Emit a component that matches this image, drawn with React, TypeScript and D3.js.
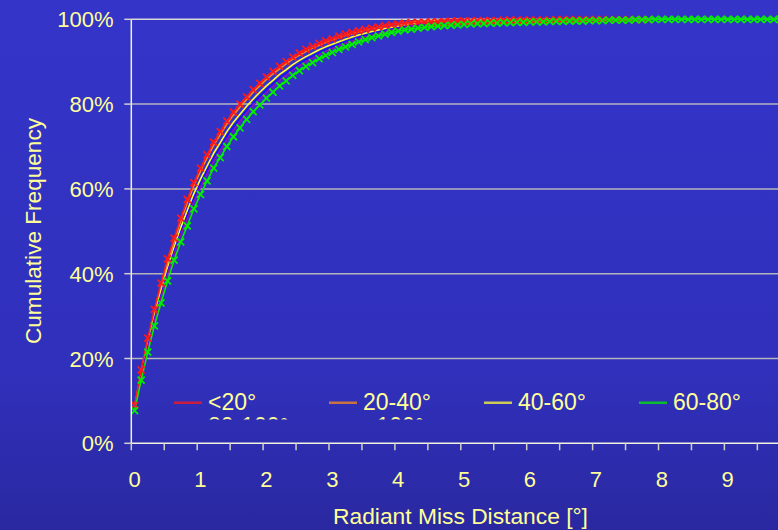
import React from 'react';
import * as d3 from 'd3';

const W = 778;
const H = 530;

// Bins are 0.1° wide; value i is the cumulative share up to bin i.
const binWidth = 0.1;
const xTickLabels = ['0', '1', '2', '3', '4', '5', '6', '7', '8', '9'];
const yTickValues = [0, 20, 40, 60, 80, 100];

const lt20 = [
  9.0, 17.3, 24.8, 31.6, 37.8, 43.5, 48.4, 53.1, 57.5, 61.5,
  64.9, 68.0, 71.0, 73.5, 76.0, 78.1, 80.0, 81.7, 83.4, 84.9,
  86.4, 87.7, 88.9, 90.0, 91.1, 92.0, 92.9, 93.6, 94.3, 94.9,
  95.4, 96.0, 96.5, 96.9, 97.3, 97.6, 97.9, 98.2, 98.5, 98.7,
  98.9, 99.1, 99.2, 99.3, 99.3, 99.4, 99.4, 99.5, 99.5, 99.6,
  99.6, 99.6, 99.7, 99.7, 99.7, 99.7, 99.8, 99.8, 99.8, 99.8,
  99.8, 99.8, 99.8, 99.8, 99.9, 99.9, 99.9, 99.9, 99.9, 99.9,
  99.9, 99.9, 99.9, 99.9, 99.9, 99.9, 99.9, 99.9, 99.9,
];

const from20to40 = [
  8.6, 16.6, 23.9, 30.6, 36.8, 42.6, 47.6, 52.4, 56.8, 60.8,
  64.2, 67.3, 70.3, 72.8, 75.3, 77.4, 79.3, 81.1, 82.8, 84.3,
  85.8, 87.1, 88.3, 89.5, 90.6, 91.5, 92.4, 93.2, 93.9, 94.5,
  95.1, 95.7, 96.2, 96.6, 97.0, 97.4, 97.8, 98.1, 98.4, 98.7,
  98.9, 99.1, 99.3, 99.5, 99.6, 99.7, 99.8, 99.9, 100, 100, 100,
];

const from40to60 = [
  8.4, 16.3, 23.4, 29.9, 35.8, 41.3, 46.2, 50.8, 54.9, 58.9,
  62.3, 65.4, 68.4, 70.9, 73.5, 75.7, 77.6, 79.5, 81.2, 82.8,
  84.3, 85.6, 87.0, 88.1, 89.3, 90.3, 91.2, 92.0, 92.8, 93.5,
  94.1, 94.7, 95.3, 95.8, 96.3, 96.7, 97.1, 97.5, 97.8, 98.1,
  98.4, 98.7, 98.9, 99.1, 99.3, 99.5, 99.6, 99.7, 99.8, 99.9, 100,
];

const from60to80 = [
  7.7, 14.9, 21.5, 27.7, 33.1, 38.3, 43.2, 47.5, 51.3, 55.3,
  58.7, 61.9, 64.9, 67.4, 70.0, 72.3, 74.4, 76.4, 78.2, 79.8,
  81.4, 82.8, 84.3, 85.5, 86.8, 87.9, 88.9, 89.8, 90.7, 91.5,
  92.2, 92.9, 93.5, 94.1, 94.7, 95.2, 95.7, 96.1, 96.5, 96.9,
  97.2, 97.5, 97.7, 97.9, 98.1, 98.3, 98.4, 98.5, 98.6, 98.7,
  98.8, 98.9, 99.0, 99.0, 99.1, 99.1, 99.2, 99.2, 99.3, 99.3,
  99.4, 99.4, 99.4, 99.5, 99.5, 99.5, 99.6, 99.6, 99.6, 99.7,
  99.7, 99.7, 99.8, 99.8, 99.8, 99.8, 99.9, 99.9, 99.9, 100,
  100, 100, 100, 100, 100, 100, 100, 100, 100, 100,
  100, 100, 100, 100, 100, 100, 100, 100, 100, 100,
];

const from80to100 = [
  8.2, 15.9, 22.8, 29.3, 35.0, 40.4, 45.3, 49.7, 53.8, 57.8,
  61.2, 64.3, 67.3, 69.8, 72.4, 74.6, 76.6, 78.5, 80.3, 81.8,
  83.4, 84.8, 86.1, 87.3, 88.5, 89.5, 90.5, 91.3, 92.1, 92.9,
  93.5, 94.1, 94.7, 95.2, 95.7, 96.2, 96.6, 97.0, 97.4, 97.7,
  98.0, 98.3, 98.6, 98.9, 99.1, 99.3, 99.5, 99.7, 99.8, 99.9, 100,
];

const over100 = [
  8.0, 15.6, 22.4, 28.8, 34.4, 39.8, 44.6, 49.1, 53.0, 57.0,
  60.4, 63.6, 66.6, 69.1, 71.7, 73.9, 76.0, 77.9, 79.7, 81.2,
  82.8, 84.2, 85.6, 86.8, 88.0, 89.1, 90.0, 90.9, 91.7, 92.5,
  93.1, 93.8, 94.4, 94.9, 95.4, 95.9, 96.3, 96.7, 97.1, 97.5,
  97.8, 98.1, 98.4, 98.7, 99.0, 99.2, 99.4, 99.6, 99.8, 99.9, 100,
];

type Series = { name: string; values: number[]; color: string; markers: boolean };

const series: Series[] = [
  { name: '<20°', values: lt20, color: '#ff1a1a', markers: true },
  { name: '20-40°', values: from20to40, color: '#ff8a1a', markers: false },
  { name: '40-60°', values: from40to60, color: '#ffff33', markers: false },
  { name: '60-80°', values: from60to80, color: '#00ee00', markers: true },
  { name: '80-100°', values: from80to100, color: '#1010ff', markers: false },
  { name: '>100°', values: over100, color: '#9010b0', markers: false },
];

// drawing order: plain lines first, marked series on top
const drawOrder = [1, 2, 4, 5, 0, 3];

const FONT = '"Liberation Sans", Arial, Helvetica, sans-serif';
const TEXT = '#ffff99';

export default function App() {
  const x = d3.scaleLinear().domain([0, 10]).range([131.3, 790.3]);
  const y = d3.scaleLinear().domain([0, 100]).range([443.3, 19.3]);
  const left = x(0);
  const bottom = y(0);

  const binCenter = (i: number) => (i + 0.5) * binWidth;
  const line = d3
    .line<number>()
    .x((_, i) => x(binCenter(i)))
    .y((v) => y(v));

  const minorTicks = d3.range(0, 10.01, 0.5);
  const cross = 'M-3.5,-3.5L3.5,3.5M-3.5,3.5L3.5,-3.5';

  const legendCols = [174, 329, 484, 639];
  const legendRow0 = 402.7;
  const legendRowGap = 23.4;

  return (
    <svg
      width={W}
      height={H}
      style={{ position: 'absolute', left: 0, top: 0, display: 'block' }}
      fontFamily={FONT}
    >
      <defs>
        <linearGradient id="bg" x1="0" y1="0" x2="0" y2="1">
          <stop offset="0" stopColor="#3434c9" />
          <stop offset="0.7" stopColor="#3030bc" />
          <stop offset="1" stopColor="#2a28a0" />
        </linearGradient>
        <clipPath id="plotClip">
          <rect x={left} y={0} width={W - left} height={bottom + 1} />
        </clipPath>
        <clipPath id="legendClip">
          <rect x={150} y={380} width={W - 150} height={39.6} />
        </clipPath>
      </defs>

      <rect width={W} height={H} fill="url(#bg)" />

      {/* horizontal gridlines */}
      {yTickValues
        .filter((v) => v > 0)
        .map((v) => (
          <line
            key={`g${v}`}
            x1={left}
            x2={W}
            y1={y(v)}
            y2={y(v)}
            stroke={v === 100 ? '#d8d8d8' : '#b4b4bc'}
            strokeWidth={1.5}
          />
        ))}

      {/* series */}
      <g clipPath="url(#plotClip)">
        {drawOrder.map((si) => {
          const s = series[si];
          return (
            <path
              key={`l${si}`}
              d={line(s.values) ?? ''}
              fill="none"
              stroke={s.color}
              strokeWidth={1.6}
              strokeLinejoin="round"
            />
          );
        })}
        {drawOrder
          .filter((si) => series[si].markers)
          .map((si) => {
            const s = series[si];
            return (
              <g key={`m${si}`} stroke={s.color} strokeWidth={1.8} fill="none">
                {s.values.map((v, i) => (
                  <path
                    key={i}
                    d={cross}
                    transform={`translate(${x(binCenter(i))},${y(v)})`}
                  />
                ))}
              </g>
            );
          })}
      </g>

      {/* y axis */}
      <line x1={left} x2={left} y1={y(100)} y2={bottom} stroke="#f2f2e0" strokeWidth={1.5} />
      {yTickValues.map((v) => (
        <g key={`yt${v}`}>
          <line x1={left - 7} x2={left} y1={y(v)} y2={y(v)} stroke="#d0d0d0" strokeWidth={1.5} />
          <text
            x={113.5}
            y={y(v) + 8}
            textAnchor="end"
            fontSize={22}
            fill={TEXT}
          >
            {`${v}%`}
          </text>
        </g>
      ))}
      <text
        transform={`translate(40.5,${231}) rotate(-90)`}
        textAnchor="middle"
        fontSize={22.6}
        fill={TEXT}
      >
        Cumulative Frequency
      </text>

      {/* x axis */}
      <line x1={left} x2={W} y1={bottom} y2={bottom} stroke="#f2f2e0" strokeWidth={1.5} />
      {minorTicks.map((t) => (
        <line
          key={`xt${t}`}
          x1={x(t)}
          x2={x(t)}
          y1={bottom}
          y2={bottom + 7}
          stroke="#d0d0c8"
          strokeWidth={1.5}
        />
      ))}
      {xTickLabels.map((lab, k) => (
        <text
          key={`xl${lab}`}
          x={x(binCenter(k * 10))}
          y={486.5}
          textAnchor="middle"
          fontSize={22}
          fill={TEXT}
        >
          {lab}
        </text>
      ))}
      <text x={460.5} y={524} textAnchor="middle" fontSize={22.8} fill={TEXT}>
        Radiant Miss Distance [°]
      </text>

      {/* legend, cut off below the first row */}
      <g clipPath="url(#legendClip)">
        {series.map((s, i) => {
          const col = i % 4;
          const row = Math.floor(i / 4);
          const lx = legendCols[col];
          const ly = legendRow0 + row * legendRowGap;
          return (
            <g key={`lg${i}`}>
              <line
                x1={lx}
                x2={lx + 28}
                y1={ly}
                y2={ly}
                stroke={s.color}
                strokeOpacity={0.75}
                strokeWidth={2.5}
              />
              <text x={lx + 34} y={ly + 7.5} fontSize={23} fill={TEXT}>
                {s.name}
              </text>
            </g>
          );
        })}
      </g>
    </svg>
  );
}
